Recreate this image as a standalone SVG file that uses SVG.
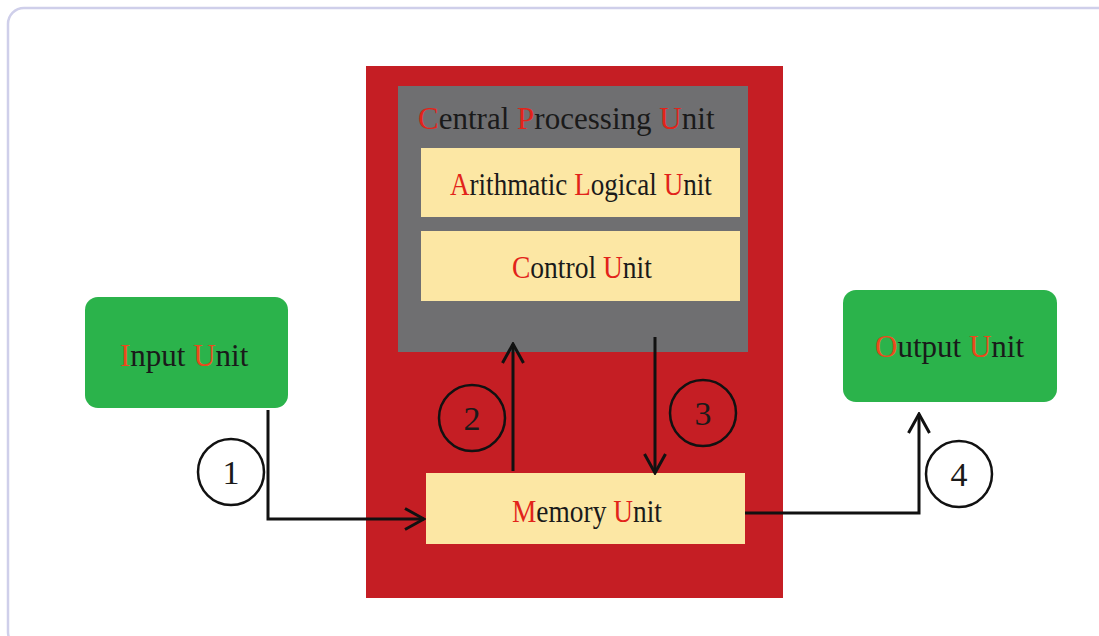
<svg xmlns="http://www.w3.org/2000/svg" width="1099" height="636" viewBox="0 0 1099 636">
<style>
.t{font-family:"Liberation Serif","Times New Roman",serif;fill:#1a1a1a}
.r{fill:#e2231a}
.o{fill:#ea4a1c}
.num{font-family:"Liberation Serif","Times New Roman",serif;font-size:34px;fill:#1a1a1a;text-anchor:middle}
.ln{fill:none;stroke:#111;stroke-width:3}
.circ{fill:none;stroke:#111;stroke-width:2.5}
.yel{fill:#fce7a4}
.grn{fill:#2bb34b}
</style>
<defs>
<marker id="arr" viewBox="0 0 22 24" refX="20" refY="12" markerWidth="22" markerHeight="24" markerUnits="userSpaceOnUse" orient="auto">
<path d="M1,1.5 L20,12 L1,22.5" fill="none" stroke="#111" stroke-width="3"/>
</marker>
</defs>
<rect x="0" y="0" width="1099" height="636" fill="#ffffff"/>
<rect x="8" y="8" width="1110" height="640" rx="16" fill="none" stroke="#cfcfea" stroke-width="2.5"/>
<g id="cpu-outer">
<rect x="366" y="66" width="417" height="532" fill="#c51e24"/>
</g>
<g id="cpu">
<rect x="398" y="86" width="350" height="266" fill="#6f6f71"/>
<text class="t" transform="translate(418,129) scale(0.97,1)" font-size="32"><tspan class="r">C</tspan>entral <tspan class="r">P</tspan>rocessing <tspan class="r">U</tspan>nit</text>
</g>
<g id="alu">
<rect class="yel" x="421" y="148" width="319" height="69"/>
<text class="t" transform="translate(450,195) scale(0.874,1)" font-size="31"><tspan class="r">A</tspan>rithmatic <tspan class="r">L</tspan>ogical <tspan class="r">U</tspan>nit</text>
</g>
<g id="control">
<rect class="yel" x="421" y="231" width="319" height="70"/>
<text class="t" transform="translate(512,278) scale(0.888,1)" font-size="31"><tspan class="r">C</tspan>ontrol <tspan class="r">U</tspan>nit</text>
</g>
<g id="memory">
<rect class="yel" x="426" y="473" width="319" height="71"/>
<text class="t" transform="translate(512,522) scale(0.884,1)" font-size="31"><tspan class="r">M</tspan>emory <tspan class="r">U</tspan>nit</text>
</g>
<g id="input">
<rect class="grn" x="85" y="297" width="203" height="111" rx="13"/>
<text class="t" x="120" y="366" font-size="31"><tspan class="o">I</tspan>nput <tspan class="o">U</tspan>nit</text>
</g>
<g id="output">
<rect class="grn" x="843" y="290" width="214" height="112" rx="13"/>
<text class="t" x="875" y="357" font-size="31"><tspan class="o">O</tspan>utput <tspan class="o">U</tspan>nit</text>
</g>
<g id="connectors">
<path class="ln" d="M268,410 L268,519 L424,519" marker-end="url(#arr)"/>
<path class="ln" d="M513,471 L513,344" marker-end="url(#arr)"/>
<path class="ln" d="M655,337 L655,473" marker-end="url(#arr)"/>
<path class="ln" d="M745,513 L919,513 L919,414" marker-end="url(#arr)"/>
</g>
<g id="labels">
<circle class="circ" cx="231" cy="472" r="33"/>
<text class="num" x="231" y="484">1</text>
<circle class="circ" cx="472" cy="418" r="33"/>
<text class="num" x="472" y="430">2</text>
<circle class="circ" cx="703" cy="413" r="33"/>
<text class="num" x="703" y="425">3</text>
<circle class="circ" cx="959" cy="474" r="33"/>
<text class="num" x="959" y="486">4</text>
</g>
</svg>
